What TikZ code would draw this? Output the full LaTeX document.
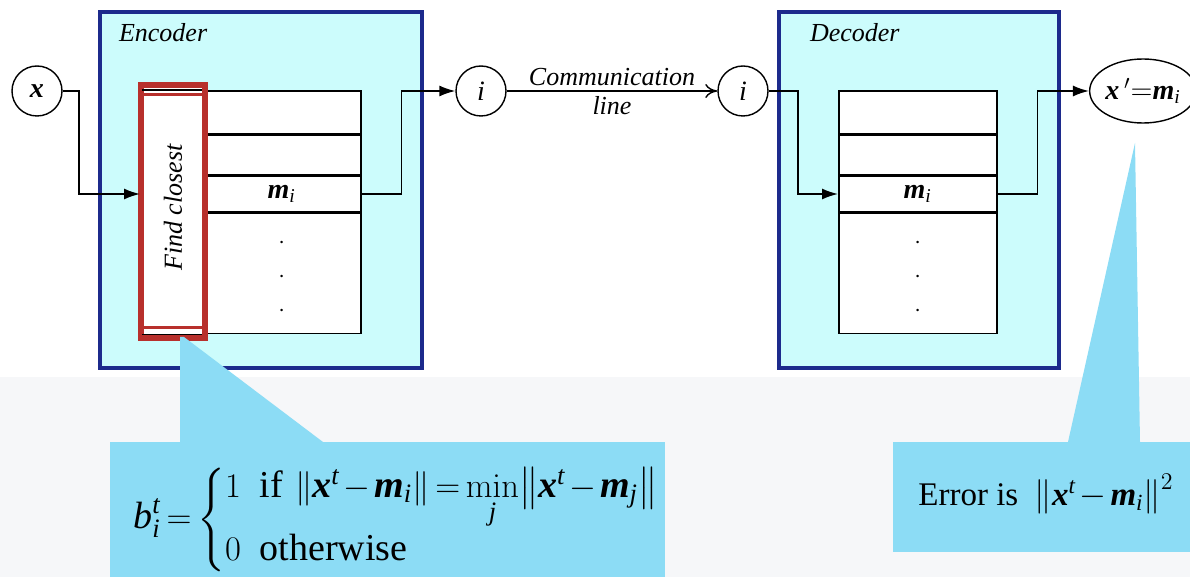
\documentclass[tikz,border=0pt]{standalone}
\usepackage{amsmath}
\usepackage[no-math]{fontspec}
\IfFontExistsTF{LiberationSerif-Regular.ttf}
  {\setmainfont{LiberationSerif}[Extension=.ttf, UprightFont=*-Regular, ItalicFont=*-Italic, BoldFont=*-Bold, BoldItalicFont=*-BoldItalic]}
  {\setmainfont{Latin Modern Roman}}
\usetikzlibrary{positioning, arrows.meta, shapes.geometric}

\definecolor{framecyan}{HTML}{CCFCFC}
\definecolor{framenavy}{HTML}{1C2A8C}
\definecolor{calloutblue}{HTML}{8CDCF5}
\definecolor{findred}{HTML}{B8302C}
\definecolor{lowgray}{HTML}{F6F7F9}

\newcommand{\vecx}{\textbf{\textit{x}}}
\newcommand{\vecm}{\textbf{\textit{m}}}
\newcommand{\tsub}[1]{\textit{#1}}
\newcommand{\tightmath}{\thickmuskip=3mu plus 1mu\medmuskip=2mu plus 1mu}

\begin{document}
\begin{tikzpicture}[x=0.5pt, y=-0.5pt, node distance=0pt,
  unitframe/.style={draw=framenavy, fill=framecyan, line width=1.6pt},
  cell/.style={draw, fill=white, line width=0.8pt, minimum width=79pt, inner sep=0pt},
  io/.style={draw, circle, fill=white, minimum size=25pt, inner sep=0pt, line width=0.7pt, font=\fontsize{14}{16}\selectfont},
  itext/.style={font=\fontsize{13}{15}\selectfont\itshape},
  flow/.style={-{Latex[length=8pt,width=5.5pt]}, line width=0.8pt},
  callfill/.style={fill=calloutblue}]
\useasboundingbox (0,0) rectangle (1190,577);
\fill[lowgray] (0,377) rectangle (1190,577);

% encoder and decoder frames
\draw[unitframe] (100,12) rectangle (422,368);
\draw[unitframe] (779,12) rectangle (1059,368);
\node[itext, anchor=west] (enctitle) at (112,33) {Encoder};
\node[itext, anchor=west] (dectitle) at (803,33) {Decoder};

% encoder codebook
\node[cell, minimum height=21.5pt, anchor=north west] (e1) at (202,90) {};
\node[cell, minimum height=19.5pt, below=of e1] (e2) {};
\node[cell, minimum height=18pt, below=of e2, font=\fontsize{14}{16}\selectfont] (e3) {$\vecm_{\tsub{i}}$};
\node[cell, minimum height=60pt, below=of e3] (e4) {};
\node[align=center, font=\fontsize{12}{17}\selectfont] (edots) at ([yshift=-2pt]e4) {$\cdot$\\$\cdot$\\$\cdot$};

% find closest
\node[draw=findred, line width=2pt, fill=white, minimum width=31pt, minimum height=125.5pt, anchor=north west] (find) at (140,84) {};
\node[rotate=90, font=\fontsize{13}{15}\selectfont\itshape] (findtext) at ([yshift=2pt]find) {Find closest};
\draw[line width=0.8pt] (find.west |- e1.north) -- (e1.north west);
\draw[line width=0.8pt] (find.west |- e4.south) -- (e4.south west);
\draw[findred, line width=1.5pt] ([yshift=-5.5pt]find.north west) -- ([yshift=-5.5pt]find.north east);
\draw[findred, line width=1.5pt] ([yshift=5.5pt]find.south west) -- ([yshift=5.5pt]find.south east);
\draw[findred, line width=2pt] (find.north west) rectangle (find.south east);

% decoder codebook
\node[cell, minimum height=21.5pt, anchor=north west] (d1) at (838,90) {};
\node[cell, minimum height=19.5pt, below=of d1] (d2) {};
\node[cell, minimum height=18pt, below=of d2, font=\fontsize{14}{16}\selectfont] (d3) {$\vecm_{\tsub{i}}$};
\node[cell, minimum height=60pt, below=of d3] (d4) {};
\node[align=center, font=\fontsize{12}{17}\selectfont] (ddots) at ([yshift=-2pt]d4) {$\cdot$\\$\cdot$\\$\cdot$};

% inputs and outputs
\node[io] (xin) at (37,91) {\vecx};
\node[io] (ienc) at (481,91) {\textit{i}};
\node[io] (idec) at (743,91) {\textit{i}};
\node[draw, ellipse, fill=white, minimum width=45pt, minimum height=32pt, inner sep=0pt, line width=0.7pt, font=\fontsize{14}{16}\selectfont] (xout) at (1143,91) {$\vecx\,'{=}\vecm_{\tsub{i}}$};

\draw[flow] (xin.east) -- ++(16,0) |- (find.west |- e3);
\draw[flow] (e3.east) -- ++(40,0) |- (ienc.west);
\draw[-{To[length=6pt,width=7pt]}, line width=0.7pt] (ienc) -- (idec)
  node[midway, above=-1pt, itext] (commtop) {Communication}
  node[midway, below=-1pt, itext] (commbot) {line};
\draw[flow] (idec.east) -- ++(29,0) |- (d3.west);
\draw[flow] (d3.east) -- ++(40,0) |- (xout.west);

% callouts
\fill[callfill] (110,442) rectangle (665,580);
\fill[callfill] (180,442) -- (180,337) -- (184,337) -- (323,442) -- cycle;
\fill[callfill] (893,442) rectangle (1190,552);
\fill[callfill] (1068,442) -- (1135,143) -- (1140,442) -- cycle;

\node[anchor=west, font=\fontsize{19}{22}\selectfont, inner sep=0pt] (rule) at (133,520)
  {$\tightmath \textit{b}^{\tsub{t}}_{\tsub{i}} = \left\{\begin{array}{@{}l@{\ \ }l}
     1 & \text{if\,}\left\lVert \vecx^{\tsub{t}} - \vecm_{\tsub{i}} \right\rVert = \min\limits_{\tsub{j}}\!\left\lVert \vecx^{\tsub{t}} - \vecm_{\tsub{j}} \right\rVert \\[2pt]
     0 & \text{otherwise} \end{array}\right.$};
\node[anchor=west, font=\fontsize{16.5}{20}\selectfont, inner sep=0pt] (err) at (918,494)
  {Error is\ \ $\tightmath \left\lVert \vecx^{\tsub{t}} - \vecm_{\tsub{i}} \right\rVert^{2}$};
\end{tikzpicture}
\end{document}
